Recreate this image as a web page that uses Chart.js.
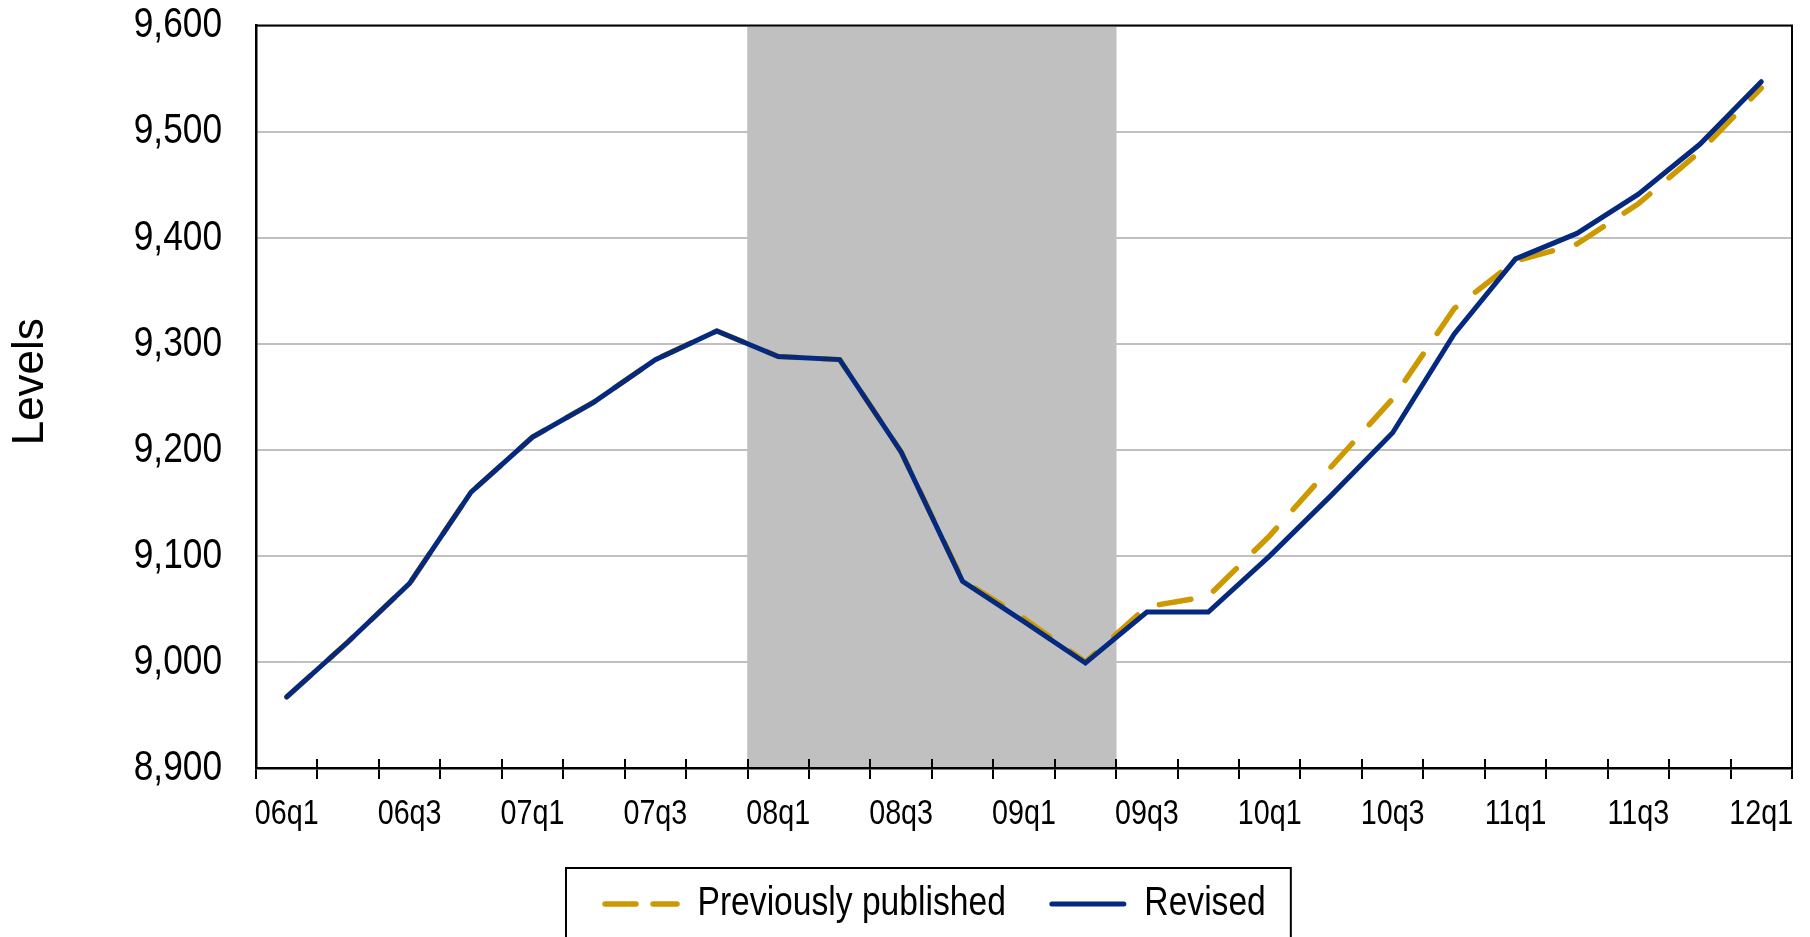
<!DOCTYPE html>
<html>
<head>
<meta charset="utf-8">
<script src="https://cdn.jsdelivr.net/npm/chart.js@4.4.0/dist/chart.umd.min.js"></script>
<style>
  html, body { margin: 0; padding: 0; background: #ffffff; }
  #wrap { width: 1810px; height: 937px; position: relative; overflow: hidden; }
</style>
</head>
<body>
<div id="wrap"><canvas id="c" width="1810" height="937"></canvas></div>
<script>
// ---- data ----
const quarters = ['06q1','06q2','06q3','06q4','07q1','07q2','07q3','07q4',
                  '08q1','08q2','08q3','08q4','09q1','09q2','09q3','09q4',
                  '10q1','10q2','10q3','10q4','11q1','11q2','11q3','11q4','12q1'];
const previouslyPublished = [8967, 9019, 9074, 9160, 9212, 9245, 9285, 9312,
                             9288, 9285, 9198, 9077, 9041, 9000, 9052, 9062,
                             9119, 9184, 9248, 9333, 9378, 9394, 9432, 9481, 9541];
const revised = [8967, 9019, 9074, 9160, 9212, 9245, 9285, 9312,
                 9288, 9285, 9198, 9076, 9038, 8999, 9047, 9047,
                 9100, 9157, 9216, 9309, 9380, 9404, 9441, 9488, 9547];
const recessionQuarters = ['08q1','08q2','08q3','08q4','09q1','09q2'];
const yMin = 8900, yMax = 9600, yStep = 100;
const seriesNames = ['Previously published', 'Revised'];

const recession = quarters.map(q => recessionQuarters.includes(q) ? yMax : null);

// Narrow text: the reference uses a condensed sans; emulate by compressing horizontally.
const NARROW = "NarrowSim, 'Liberation Sans', Arial, sans-serif";
const REGULAR = "'Liberation Sans', Arial, sans-serif";
const NARROW_FACTOR = 0.82;
const GOLD = '#CC9900';
const NAVY = '#04297F';

const canvas = document.getElementById('c');
const ctx2d = canvas.getContext('2d');
(function patchNarrow(ctx) {
  const origFill = ctx.fillText.bind(ctx);
  const origMeasure = ctx.measureText.bind(ctx);
  const isNarrow = () => /NarrowSim/i.test(ctx.font);
  ctx.fillText = function (text, x, y, maxWidth) {
    if (!isNarrow()) {
      return maxWidth === undefined ? origFill(text, x, y) : origFill(text, x, y, maxWidth);
    }
    ctx.save();
    ctx.translate(x, y);
    ctx.scale(NARROW_FACTOR, 1);
    if (maxWidth === undefined) origFill(text, 0, 0); else origFill(text, 0, 0, maxWidth / NARROW_FACTOR);
    ctx.restore();
  };
  ctx.measureText = function (text) {
    const m = origMeasure(text);
    if (!isNarrow()) return m;
    return {
      width: m.width * NARROW_FACTOR,
      actualBoundingBoxAscent: m.actualBoundingBoxAscent,
      actualBoundingBoxDescent: m.actualBoundingBoxDescent,
      actualBoundingBoxLeft: m.actualBoundingBoxLeft * NARROW_FACTOR,
      actualBoundingBoxRight: m.actualBoundingBoxRight * NARROW_FACTOR
    };
  };
})(ctx2d);

const TITLE_SHIFT = -15; // axis title sits slightly above the plot middle in the reference

const framePlugin = {
  id: 'frame',
  afterLayout(chart) {
    const lg = chart.legend;
    if (lg && lg.lineWidths) {
      const p = lg.options.labels.padding;
      const fs = lg.options.labels.font.size;
      const start = (lg.left + p + lg.right - lg.lineWidths[0]) / 2;
      const dx = 605 - start;
      const dy = 904 - (lg.top + p + fs / 2);
      lg.left += dx; lg.right += dx;
      lg.top += dy; lg.bottom += dy;
    }
    const ys = chart.scales.y;
    if (ys && !ys._titleShifted) {
      const orig = ys.drawTitle;
      ys.drawTitle = function () {
        this.top += TITLE_SHIFT; this.bottom += TITLE_SHIFT;
        try { orig.apply(this, arguments); }
        finally { this.top -= TITLE_SHIFT; this.bottom -= TITLE_SHIFT; }
      };
      ys._titleShifted = true;
    }
  },
  afterDatasetsDraw(chart) {
    const {ctx, chartArea: a} = chart;
    ctx.save();
    ctx.strokeStyle = '#000';
    ctx.lineWidth = 2;
    ctx.beginPath();
    ctx.moveTo(a.left, a.top); ctx.lineTo(a.right, a.top); ctx.lineTo(a.right, a.bottom);
    ctx.stroke();
    // inner half of the crossing tick marks
    const n = quarters.length;
    const w = (a.right - a.left) / n;
    ctx.beginPath();
    for (let k = 0; k <= n; k++) {
      const px = Math.round(a.left + k * w);
      ctx.moveTo(px, a.bottom); ctx.lineTo(px, a.bottom - 9);
    }
    ctx.stroke();
    ctx.restore();
  },
  afterDraw(chart) {
    const lg = chart.legend;
    if (!lg || !lg.legendHitBoxes || !lg.legendHitBoxes.length) return;
    const hb = lg.legendHitBoxes;
    const first = hb[0], last = hb[hb.length - 1];
    const {ctx} = chart;
    ctx.save();
    ctx.strokeStyle = '#000';
    ctx.lineWidth = 2;
    const l = first.left - 39, t = first.top - 15.5;
    const r = last.left + last.width + 25;
    ctx.strokeRect(l, t, r - l, chart.height + 10 - t);
    ctx.restore();
  }
};

new Chart(ctx2d, {
  type: 'line',
  data: {
    labels: quarters,
    datasets: [
      {
        label: seriesNames[0],
        data: previouslyPublished,
        borderColor: GOLD,
        backgroundColor: GOLD,
        borderWidth: 5.5,
        borderDash: [32, 25],
        borderCapStyle: 'round',
        borderJoinStyle: 'round',
        legendDash: [31, 17],
        pointRadius: 0,
        tension: 0,
        fill: false,
        order: 2
      },
      {
        label: seriesNames[1],
        data: revised,
        borderColor: NAVY,
        backgroundColor: NAVY,
        borderWidth: 5,
        borderCapStyle: 'round',
        borderJoinStyle: 'miter',
        pointRadius: 0,
        tension: 0,
        fill: false,
        order: 1
      },
      {
        type: 'bar',
        label: 'Recession',
        data: recession,
        backgroundColor: '#C0C0C0',
        borderWidth: 0,
        barPercentage: 1.0,
        categoryPercentage: 1.0,
        order: 3
      }
    ]
  },
  options: {
    responsive: false,
    devicePixelRatio: 1,
    animation: false,
    events: [],
    layout: { padding: { top: 25.5, right: 18, bottom: 0, left: 0 } },
    plugins: {
      tooltip: { enabled: false },
      legend: {
        display: true,
        position: 'bottom',
        labels: {
          usePointStyle: true,
          pointStyleWidth: 72,
          padding: 46,
          color: '#000',
          font: { family: NARROW, size: 41 },
          generateLabels(chart) {
            return chart.data.datasets
              .map((ds, i) => ({
                text: ds.label,
                datasetIndex: i,
                strokeStyle: ds.borderColor,
                fillStyle: ds.borderColor,
                lineWidth: ds.borderWidth,
                lineDash: ds.legendDash || [],
                lineCap: 'round',
                pointStyle: 'line',
                hidden: false,
                fontColor: '#000',
                _type: ds.type
              }))
              .filter(it => it._type !== 'bar');
          }
        }
      }
    },
    scales: {
      x: {
        type: 'category',
        offset: true,
        grid: { offset: true, drawOnChartArea: false, drawTicks: true, tickLength: 11, color: '#000', lineWidth: 2, z: 1 },
        border: { display: true, color: '#000', width: 2.5, z: 1 },
        ticks: {
          autoSkip: false, maxRotation: 0, minRotation: 0,
          color: '#000', padding: 14,
          font: { family: NARROW, size: 35 },
          callback: (v, i) => (i % 2 === 0 ? quarters[i] : '')
        },
        afterFit: s => { s.height = 72; }
      },
      y: {
        min: yMin, max: yMax,
        grid: { color: '#C0C0C0', lineWidth: 2, drawTicks: true, tickLength: 34, tickColor: 'rgba(0,0,0,0)' },
        border: { display: true, color: '#000', width: 2.5, z: 1 },
        ticks: {
          stepSize: yStep, color: '#000', padding: 0,
          font: { family: NARROW, size: 43, lineHeight: 1 },
          callback: v => Number(v).toLocaleString('en-US')
        },
        title: {
          display: true, text: 'Levels', color: '#000',
          font: { family: REGULAR, size: 44 },
          padding: { top: 4, bottom: 0 }
        },
        afterFit: s => { s.width = 256; }
      }
    }
  },
  plugins: [framePlugin]
});
</script>
</body>
</html>
